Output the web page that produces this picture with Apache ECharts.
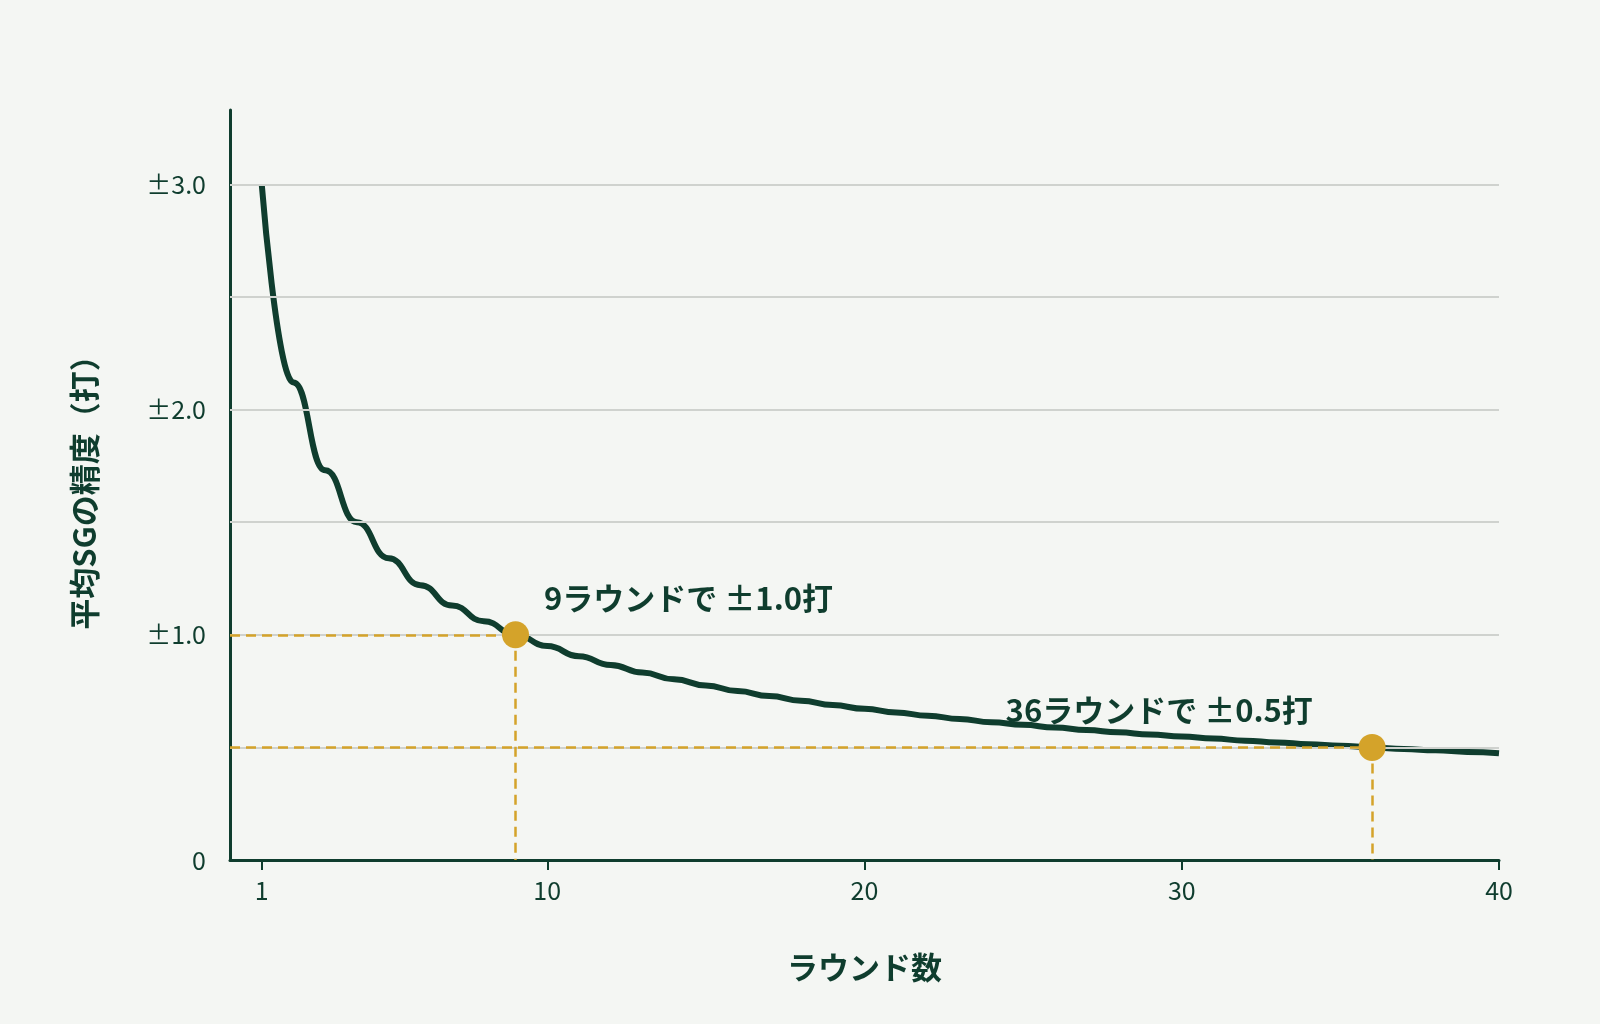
<!DOCTYPE html>
<html><head><meta charset="utf-8">
<script src="https://cdn.jsdelivr.net/npm/echarts@6/dist/echarts.min.js"></script>
<style>html,body{margin:0;background:#f4f6f3}#c{width:1600px;height:1024px}</style>
</head><body><div id="c"></div>
<script>
const rounds=[1,2,3,4,5,6,7,8,9,10,11,12,13,14,15,16,17,18,19,20,21,22,23,24,25,26,27,28,29,30,31,32,33,34,35,36,37,38,39,40];
const precision=[3.00,2.12,1.73,1.50,1.34,1.22,1.13,1.06,1.00,0.95,0.905,0.866,0.832,0.802,0.775,0.75,0.728,0.707,0.688,0.671,0.655,0.64,0.626,0.612,0.60,0.588,0.577,0.567,0.557,0.548,0.539,0.53,0.522,0.514,0.507,0.50,0.493,0.487,0.48,0.474];
const xTicks=[1,10,20,30,40];
const yTicks=[0,1,2,3];
const gridValues=[0.5,1,1.5,2,2.5,3];
const highlights=[[9,1.0,'9ラウンドで ±1.0打'],[36,0.5,'36ラウンドで ±0.5打']];
const dark='#0f3d2e', gold='#d4a32a';
const font='"Noto Sans CJK JP", "Noto Sans", sans-serif';
const ch=echarts.init(document.getElementById('c'));
ch.setOption({
  backgroundColor:'#f4f6f3',
  textStyle:{fontFamily:font},
  grid:{left:230,right:101,top:110,bottom:164},
  xAxis:{type:'value',min:0,max:40,
    name:'ラウンド数',nameLocation:'middle',nameGap:92,
    nameTextStyle:{color:dark,fontSize:31,fontWeight:'bold',fontFamily:font},
    axisLine:{lineStyle:{color:dark,width:3}},
    axisTick:{show:true,customValues:xTicks,length:10,lineStyle:{color:dark,width:2}},
    axisLabel:{customValues:xTicks,color:dark,fontSize:25,margin:18,fontFamily:font},
    splitLine:{show:false}},
  yAxis:{type:'value',min:0,max:3.33,
    name:'平均SGの精度（打）',nameLocation:'middle',nameGap:130,nameRotate:90,
    nameTextStyle:{color:dark,fontSize:31,fontWeight:'bold',fontFamily:font},
    axisLine:{show:true,lineStyle:{color:dark,width:3}},
    axisTick:{show:false},
    axisLabel:{customValues:yTicks,color:dark,fontSize:25,margin:24,fontFamily:font,
      formatter:v=>v===0?'0':'±'+v.toFixed(1)},
    splitLine:{show:false}},
  series:[
    {type:'line',data:rounds.map((r,i)=>[r,precision[i]]),smooth:0.5,smoothMonotone:'x',showSymbol:false,
     lineStyle:{color:dark,width:6},z:3,silent:true,
     markLine:{silent:true,symbol:'none',label:{show:false},
       lineStyle:{color:'#cfd2ce',width:2,type:'solid'},
       data:gridValues.map(v=>({yAxis:v}))}},
    {type:'line',data:[],z:2,
     markLine:{silent:true,symbol:'none',label:{show:false},
       lineStyle:{color:gold,width:2.5,type:[10,6]},
       data:highlights.flatMap(h=>[[{coord:[0,h[1]]},{coord:[h[0],h[1]]}],[{coord:[h[0],h[1]]},{coord:[h[0],0]}]])}},
    {type:'scatter',data:highlights.map(h=>({value:[h[0],h[1]],label:{
        show:true,formatter:h[2],position:h[0]===9?[42,-39]:[-353,-39]}})),
     symbolSize:27,itemStyle:{color:gold,opacity:1},z:5,silent:true,
     label:{color:dark,fontSize:31,fontWeight:'bold',fontFamily:font}}
  ]
});
</script></body></html>
